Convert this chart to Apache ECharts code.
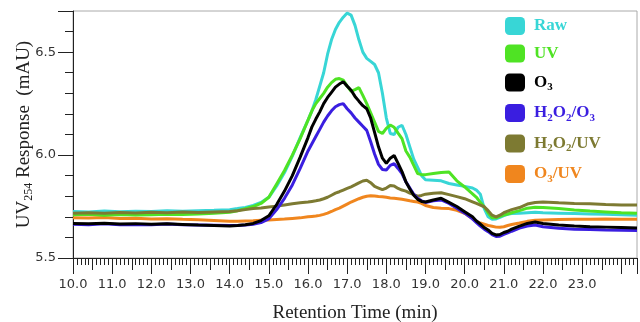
<!DOCTYPE html>
<html><head><meta charset="utf-8">
<script src="https://cdn.jsdelivr.net/npm/echarts@6/dist/echarts.min.js"></script>
<style>html,body{margin:0;padding:0;background:#fff}#c{width:640px;height:322px}</style>
</head><body><div id="c"></div>
<script>
// Retention time (min) sample points
const times = [10.0,10.4,10.8,11.2,11.6,12.0,12.4,12.8,13.2,13.6,
  14.0,14.2,14.4,14.6,14.8,15.0,15.2,15.4,15.6,15.8,16.0,
  16.1,16.2,16.3,16.4,16.5,16.6,16.7,16.8,16.9,17.0,17.1,17.2,17.3,17.4,17.5,17.6,17.7,17.8,17.9,18.0,
  18.1,18.2,18.3,18.4,18.5,18.6,18.7,18.8,18.9,19.0,
  19.2,19.4,19.6,19.8,20.0,20.2,
  20.3,20.4,20.5,20.6,20.7,20.8,20.9,21.0,21.1,21.2,
  21.4,21.6,21.8,22.0,22.4,22.8,23.2,23.6,24.0,24.4];

const raw = [5.726,5.724,5.728,5.725,5.727,5.726,5.729,5.727,5.730,5.732,
  5.735,5.740,5.746,5.755,5.770,5.795,5.850,5.915,5.995,6.085,6.170,
  6.215,6.270,6.335,6.400,6.490,6.560,6.610,6.645,6.670,6.690,6.680,6.630,6.560,6.500,6.470,6.455,6.440,6.400,6.300,6.180,
  6.105,6.100,6.135,6.145,6.100,6.040,5.980,5.940,5.900,5.880,
  5.878,5.875,5.862,5.855,5.848,5.840,
  5.830,5.810,5.740,5.700,5.688,5.690,5.698,5.706,5.712,5.716,
  5.718,5.720,5.722,5.720,5.718,5.716,5.714,5.712,5.710,5.708];

const uv = [5.710,5.712,5.708,5.711,5.709,5.710,5.712,5.711,5.714,5.718,
  5.722,5.730,5.740,5.750,5.765,5.795,5.860,5.925,6.000,6.080,6.170,
  6.215,6.250,6.275,6.300,6.330,6.352,6.368,6.372,6.364,6.335,6.310,6.318,6.328,6.290,6.250,6.205,6.160,6.115,6.105,6.130,
  6.146,6.135,6.107,6.080,6.020,5.990,5.950,5.910,5.905,5.905,
  5.910,5.915,5.918,5.875,5.845,5.812,
  5.795,5.770,5.749,5.720,5.695,5.695,5.702,5.709,5.714,5.720,
  5.730,5.742,5.746,5.745,5.740,5.733,5.728,5.724,5.720,5.717];

const o3 = [5.668,5.666,5.669,5.665,5.667,5.664,5.666,5.663,5.660,5.658,
  5.656,5.658,5.662,5.668,5.682,5.705,5.760,5.825,5.900,5.990,6.085,
  6.137,6.175,6.210,6.250,6.280,6.305,6.330,6.345,6.356,6.335,6.315,6.285,6.262,6.240,6.225,6.180,6.110,6.040,5.985,5.960,
  5.985,5.998,5.960,5.920,5.870,5.835,5.805,5.785,5.775,5.772,
  5.782,5.790,5.770,5.750,5.725,5.700,
  5.680,5.665,5.648,5.636,5.620,5.612,5.614,5.624,5.630,5.640,
  5.655,5.668,5.675,5.668,5.660,5.655,5.652,5.650,5.648,5.646];

const h2o2O3 = [5.664,5.662,5.666,5.661,5.663,5.662,5.665,5.661,5.660,5.659,
  5.658,5.658,5.660,5.664,5.672,5.690,5.735,5.790,5.855,5.935,6.020,
  6.055,6.090,6.125,6.160,6.190,6.215,6.235,6.245,6.250,6.225,6.205,6.180,6.160,6.140,6.120,6.065,6.005,5.955,5.930,5.928,
  5.950,5.958,5.935,5.910,5.870,5.840,5.810,5.790,5.778,5.770,
  5.778,5.782,5.765,5.742,5.718,5.690,
  5.672,5.655,5.640,5.628,5.614,5.605,5.606,5.615,5.622,5.630,
  5.645,5.655,5.660,5.652,5.645,5.640,5.638,5.636,5.635,5.634];

const h2o2Uv = [5.718,5.720,5.717,5.721,5.719,5.722,5.720,5.723,5.721,5.724,
  5.726,5.730,5.735,5.740,5.743,5.748,5.752,5.758,5.764,5.768,5.772,
  5.775,5.778,5.782,5.788,5.795,5.805,5.815,5.822,5.830,5.838,5.846,5.855,5.865,5.874,5.878,5.866,5.848,5.840,5.832,5.840,
  5.852,5.850,5.838,5.830,5.825,5.815,5.808,5.800,5.804,5.810,
  5.815,5.817,5.808,5.798,5.788,5.773,
  5.765,5.757,5.749,5.730,5.708,5.700,5.708,5.720,5.728,5.735,
  5.745,5.762,5.770,5.772,5.768,5.765,5.763,5.760,5.758,5.757];

const o3Uv = [5.696,5.694,5.697,5.692,5.693,5.690,5.691,5.688,5.686,5.682,
  5.678,5.678,5.680,5.681,5.683,5.685,5.687,5.689,5.692,5.695,5.700,
  5.702,5.704,5.707,5.712,5.718,5.726,5.735,5.742,5.752,5.762,5.772,5.780,5.788,5.795,5.800,5.802,5.801,5.799,5.798,5.795,
  5.792,5.790,5.788,5.785,5.782,5.778,5.775,5.772,5.765,5.755,
  5.745,5.742,5.740,5.732,5.717,5.690,
  5.678,5.670,5.664,5.658,5.654,5.650,5.649,5.652,5.658,5.663,
  5.670,5.678,5.683,5.685,5.687,5.688,5.688,5.689,5.688,5.688];

const names = ['Raw','UV','O3','H2O2/O3','H2O2/UV','O3/UV'];
const colors = ['#38D6D6','#4FE324','#000000','#3A1EE0','#7D7A32','#F0861E'];
const values = [raw, uv, o3, h2o2O3, h2o2Uv, o3Uv];
const zOrder = [2,3,6,5,4,1];

const xMin = 10, xMax = 24.4, yMin = 5.5, yMax = 6.7;

const chart = echarts.init(document.getElementById('c'), null, {renderer:'canvas'});
const serif = '"Liberation Serif", "Times New Roman", serif';
const sans = '"DejaVu Sans", Verdana, sans-serif';

function legendFmt(n){
  return '{n|' + n.replace(/(\d)/g, '}{s|$1}{n|') + '}';
}

const tickAxisX = (interval, len) => ({
  type:'value', min:xMin, max:xMax, interval:interval, position:'bottom',
  axisLine:{show:false}, splitLine:{show:false}, axisLabel:{show:false},
  axisTick:{show:true, length:len, lineStyle:{color:'#222', width:1}}
});

const option = {
  animation:false,
  backgroundColor:'#fff',
  grid:{left:73, right:3, top:11, bottom:64, show:true, borderColor:'#aaa', borderWidth:1,
        containLabel:false, outerBoundsMode:'none'},
  legend:{
    orient:'vertical', left:505, top:17, padding:0, itemWidth:20, itemHeight:18, itemGap:9.5,
    icon:'roundRect',
    data: names.map((n,i)=>({name:n, textStyle:{color:colors[i]}})),
    formatter: legendFmt,
    textStyle:{
      fontFamily:serif, fontWeight:'bold', fontSize:17, padding:[0,0,0,4],
      rich:{
        n:{fontFamily:serif, fontWeight:'bold', fontSize:17, lineHeight:20},
        s:{fontFamily:serif, fontWeight:'bold', fontSize:11, lineHeight:20, padding:[10,0,0,0]}
      }
    }
  },
  xAxis:[
    {type:'value', min:xMin, max:xMax, interval:1, position:'bottom',
     name:'Retention Time (min)', nameLocation:'middle', nameGap:46, nameMoveOverlap:false,
     nameTextStyle:{fontFamily:serif, fontSize:19, color:'#222'},
     axisLine:{show:true, lineStyle:{color:'#222', width:1}},
     axisTick:{show:true, length:16, lineStyle:{color:'#222', width:1}},
     splitLine:{show:false},
     axisLabel:{margin:20, fontFamily:sans, fontSize:13, color:'#333',
       formatter:v => (Math.abs(v-Math.round(v))<1e-6 && v<=23.01) ? v.toFixed(1) : ''}
    },
    tickAxisX(0.5, 12),
    tickAxisX(0.1, 7)
  ],
  yAxis:[
    {type:'value', min:yMin, max:yMax, interval:0.5,
     name:'{a|UV}{s|254}{a| Response  (mAU)}', nameLocation:'middle', nameGap:38, nameRotate:90,
     nameMoveOverlap:false,
     nameTextStyle:{fontFamily:serif, fontSize:19, color:'#222',
       rich:{a:{fontFamily:serif, fontSize:19, color:'#222', lineHeight:22},
             s:{fontFamily:serif, fontSize:12, color:'#222', lineHeight:22, padding:[9,0,0,0]}}},
     axisLine:{show:true, lineStyle:{color:'#222', width:1}},
     axisTick:{show:true, length:15, lineStyle:{color:'#222', width:1}},
     splitLine:{show:false},
     axisLabel:{margin:17, fontFamily:sans, fontSize:13, color:'#333',
       formatter:v => (Math.abs(v*2-Math.round(v*2))<1e-6) ? v.toFixed(1) : ''}
    },
    {type:'value', min:yMin, max:yMax, interval:0.1, position:'left',
     axisLine:{show:false}, splitLine:{show:false}, axisLabel:{show:false},
     axisTick:{show:true, length:8, lineStyle:{color:'#222', width:1}}}
  ],
  series: names.map((n,i)=>({
    name:n, type:'line', xAxisIndex:0, yAxisIndex:0, showSymbol:false, symbol:'none',
    z: zOrder[i],
    itemStyle:{color:colors[i]},
    lineStyle:{color:colors[i], width:3},
    data: times.map((t,k)=>[t, values[i][k]])
  }))
};
chart.setOption(option);
</script></body></html>
